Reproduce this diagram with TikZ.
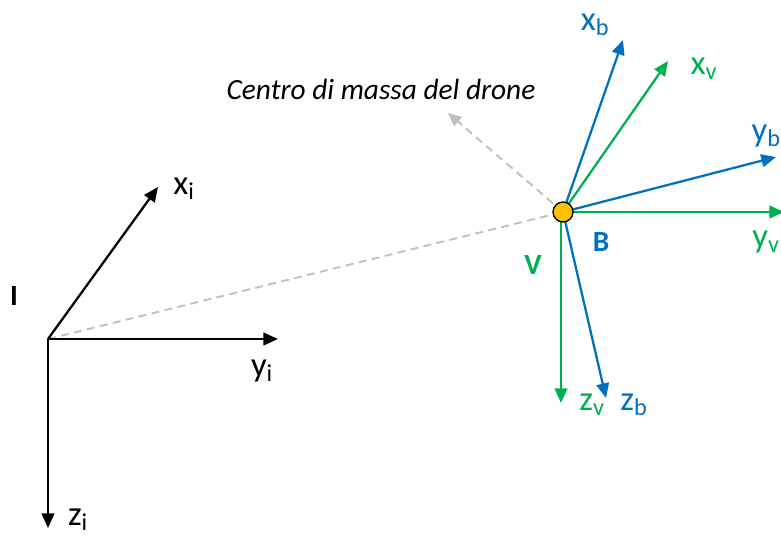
\documentclass[tikz,border=0pt]{standalone}
\usepackage{fontspec}
\setmainfont{Carlito}
\usetikzlibrary{arrows.meta}
\definecolor{bodyblue}{HTML}{0070C0}
\definecolor{velgreen}{HTML}{00B050}
\definecolor{cmyellow}{HTML}{FFC000}
\definecolor{dashgray}{HTML}{BFBFBF}

\begin{document}
\begin{tikzpicture}[x=0.75pt,y=-0.75pt,
  ax/.style={line width=1.7pt, -{Triangle[length=11pt,width=9.5pt]}},
  dl/.style={draw=dashgray, line width=1.4pt, dash pattern=on 6pt off 4pt},
  lbl/.style={font=\fontsize{26}{28}\selectfont, inner sep=0pt},
  tag/.style={font=\fontsize{22}{24}\selectfont\bfseries, inner sep=0pt}
]
\useasboundingbox (0,0) rectangle (781,538);

% ---- points ----
\coordinate (I)  at (48,339);
\coordinate (xi) at (158,187);
\coordinate (yi) at (278,339);
\coordinate (zi) at (48,528);
\coordinate (Bc) at (563,212);
\coordinate (xb) at (623,40);
\coordinate (yb) at (776,157);
\coordinate (zb) at (606,398);
\coordinate (xv) at (668,61);
\coordinate (yv) at (784,212);
\coordinate (zv0) at (561,218);
\coordinate (zv) at (561,403);
\coordinate (cm) at (448,113);

% ---- dashed guides ----
\draw[dl] (I) -- (Bc);
\draw[dl, -{Triangle[length=10pt,width=9pt]}] (Bc) -- (cm);
\node[font=\fontsize{22}{24}\selectfont\itshape, inner sep=0pt] (cmlab) at (381,89) {Centro di massa del drone};

% ===== inertial frame I =====
\draw[ax] (I) -- (xi);
\draw[ax] (I) -- (yi);
\draw[ax] (I) -- (zi);
\node[lbl] (xilab) at (184,189) {x\textsubscript{i}};
\node[lbl] (yilab) at (262,371) {y\textsubscript{i}};
\node[lbl] (zilab) at (78,520) {z\textsubscript{i}};
\node[tag] (Ilab) at (14,296) {I};

% ===== vehicle frame V =====
\draw[ax, velgreen] (Bc) -- (xv);
\draw[ax, velgreen] (Bc) -- (yv);
\draw[ax, velgreen] (zv0) -- (zv);
\node[lbl, velgreen] (xvlab) at (704,69) {x\textsubscript{v}};
\node[lbl, velgreen] (yvlab) at (766,242) {y\textsubscript{v}};
\node[lbl, velgreen] (zvlab) at (592,405) {z\textsubscript{v}};
\node[tag, velgreen] (Vlab) at (533,265) {V};

% ===== body frame B =====
\draw[ax, bodyblue] (Bc) -- (xb);
\draw[ax, bodyblue] (Bc) -- (yb);
\draw[ax, bodyblue] (Bc) -- (zb);
\node[lbl, bodyblue] (xblab) at (595,25) {x\textsubscript{b}};
\node[lbl, bodyblue, anchor=east] (yblab) at (781,136) {y\textsubscript{b}};
\node[lbl, bodyblue] (zblab) at (634,405) {z\textsubscript{b}};
\node[tag, bodyblue] (Blab) at (601,242) {B};

% centre of mass
\node[circle, draw=black, fill=cmyellow, line width=1pt, minimum size=15pt, inner sep=0pt] (B) at (Bc) {};

\end{tikzpicture}
\end{document}
